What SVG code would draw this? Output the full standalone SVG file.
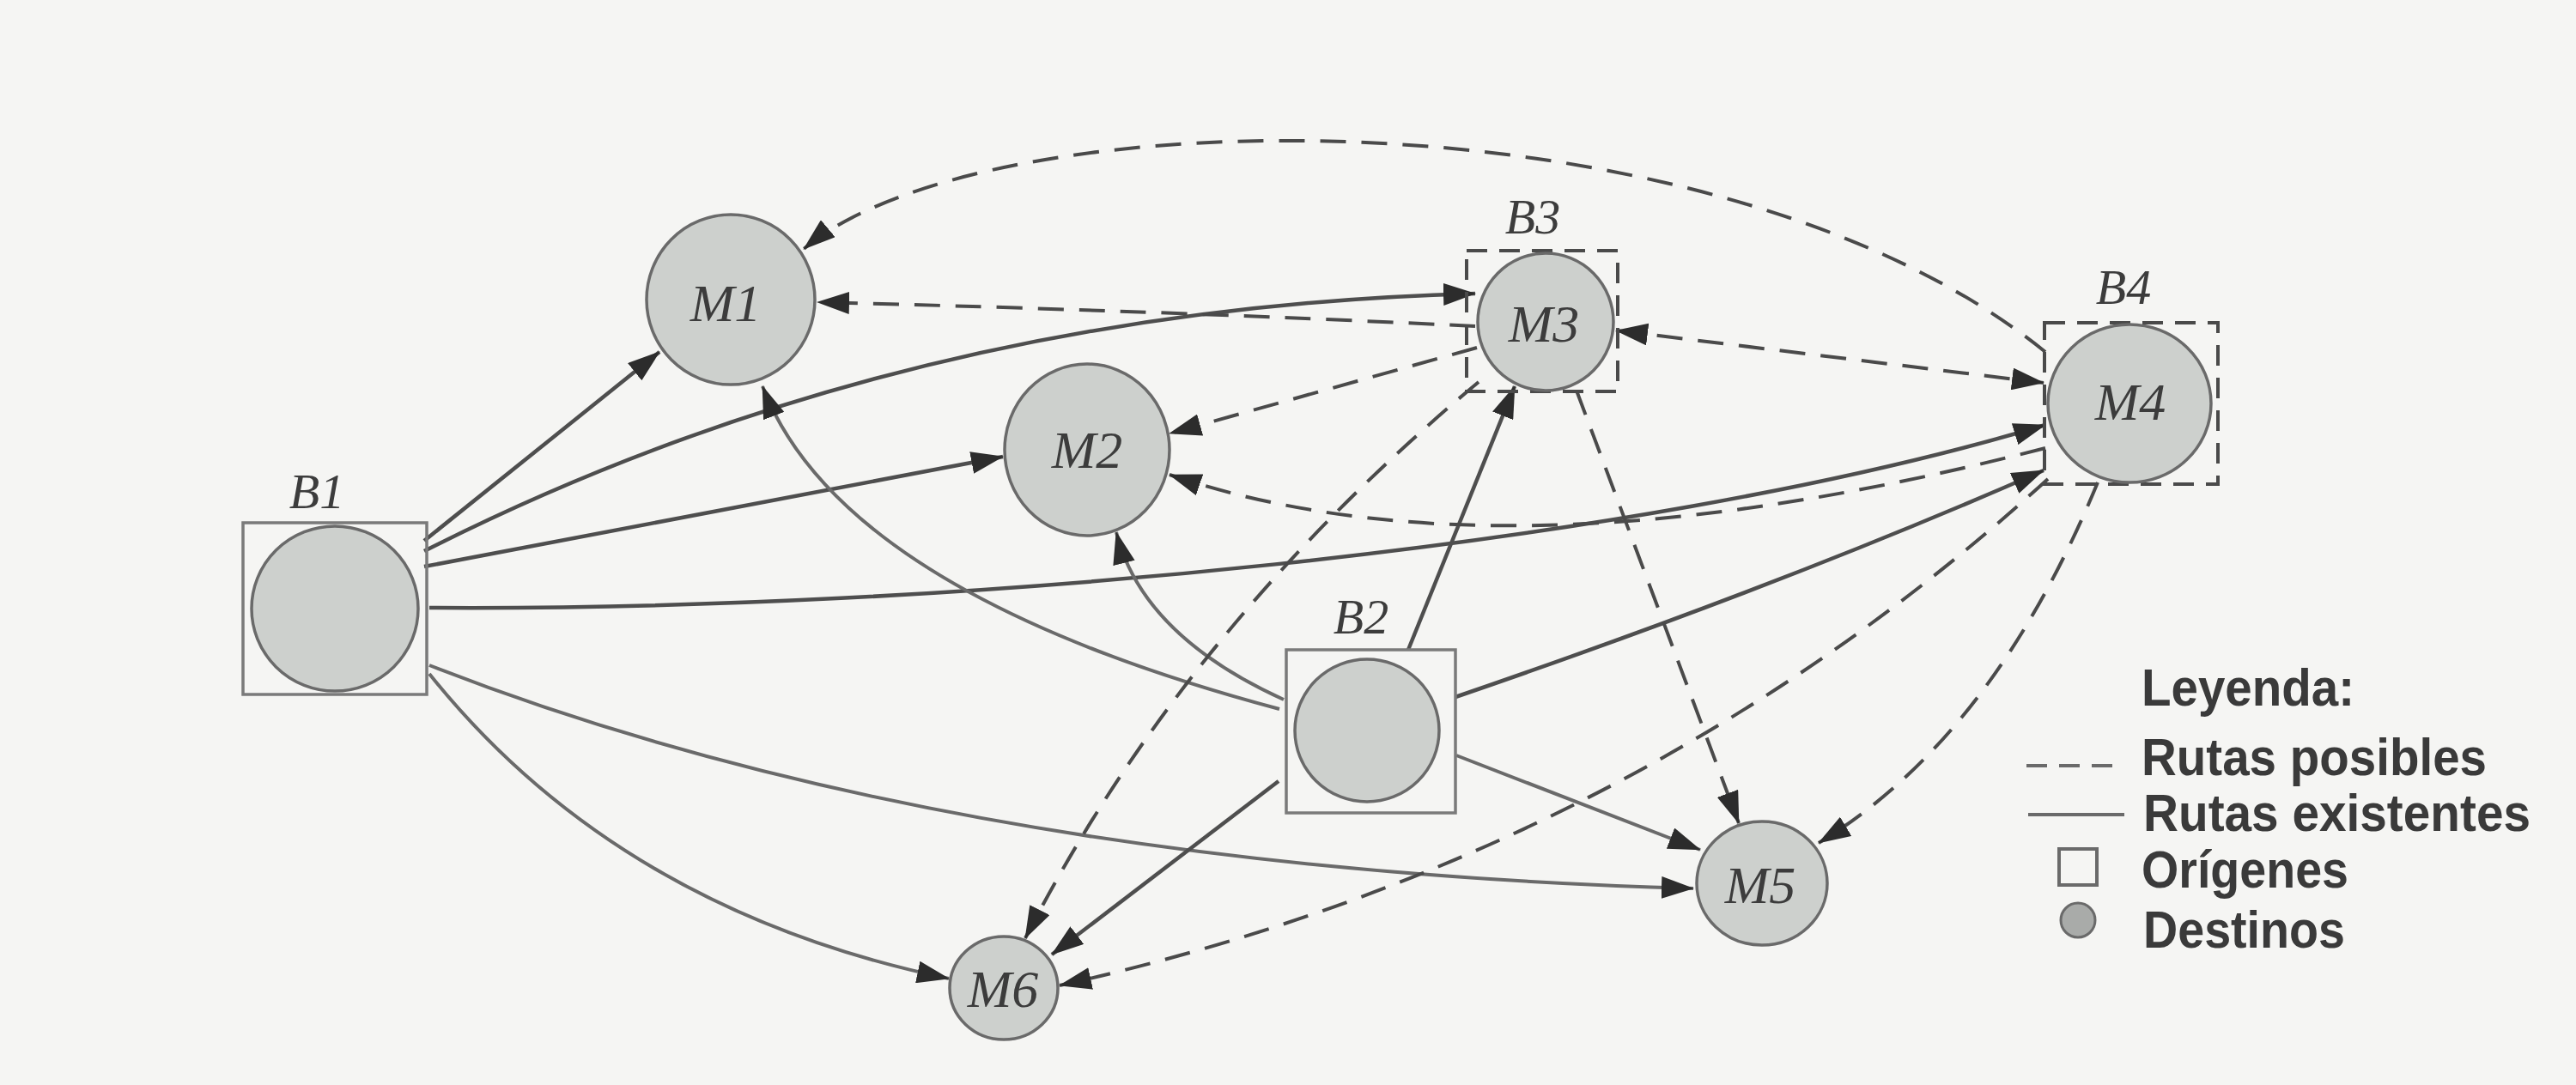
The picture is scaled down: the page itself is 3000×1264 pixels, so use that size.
<svg xmlns="http://www.w3.org/2000/svg" width="3000" height="1264" viewBox="0 0 3000 1264">
<style>
.bg{fill:#f5f5f3}
.node{fill:#cdd0cd;stroke:#6a6a6a;stroke-width:3.5}
.box{fill:none;stroke:#7a7a7a;stroke-width:3.5}
.dbox{fill:none;stroke:#4a4a4a;stroke-width:4;stroke-dasharray:24 14}
.ml{font-family:"Liberation Serif",serif;font-style:italic;font-size:62px;fill:#3c3c3c;text-anchor:middle}
.bl{font-family:"Liberation Serif",serif;font-style:italic;font-size:58px;fill:#3c3c3c;text-anchor:middle}
.solid{fill:none;stroke:#4e4e4e;stroke-width:4.5;marker-end:url(#ah)}
.light{stroke:#6a6a6a;stroke-width:4}
.dash{fill:none;stroke:#4a4a4a;stroke-width:4;stroke-dasharray:30 18;marker-end:url(#ah)}
.lg{font-family:"Liberation Sans",Arial,sans-serif;font-weight:bold;font-size:62px;fill:#3a3a3a}
</style>
<defs>
<marker id="ah" viewBox="0 0 38 26" refX="37" refY="13" markerWidth="38" markerHeight="26" markerUnits="userSpaceOnUse" orient="auto-start-reverse">
<path d="M0,0 L38,13 L0,26 z" fill="#2c2c2c"/>
</marker>
</defs>
<rect class="bg" x="0" y="0" width="3000" height="1264"/>

<g id="connectors">
<!-- existing routes -->
<path class="solid" d="M494,630 L768,410"/>
<path class="solid" d="M494,642 Q1050,360 1718,342"/>
<path class="solid" d="M494,660 L1168,532"/>
<path class="solid" d="M500,708 C1100,712 1900,640 2382,495"/>
<path class="solid light" d="M500,775 Q1100,1010 1972,1035"/>
<path class="solid light" d="M500,785 Q720,1060 1105,1140"/>
<path class="solid light" d="M1490,826 Q980,690 888,450"/>
<path class="solid light" d="M1495,815 Q1330,740 1300,620"/>
<path class="solid" d="M1640,757 L1764,450"/>
<path class="solid" d="M1695,812 Q2080,680 2380,548"/>
<path class="solid light" d="M1696,880 L1980,990"/>
<path class="solid" d="M1489,910 L1225,1112"/>
<!-- possible routes -->
<path class="dash" d="M1718,380 Q1350,362 952,352"/>
<path class="dash" d="M1720,405 L1362,505"/>
<path class="dash" d="M1722,445 Q1380,730 1194,1093"/>
<path class="dash" d="M1836,455 L2025,959"/>
<path class="dash" d="M1882,385 L2380,446" marker-start="url(#ah)"/>
<path class="dash" d="M2382,410 C2000,100 1150,110 936,290"/>
<path class="dash" d="M2382,522 C2000,620 1650,650 1362,553"/>
<path class="dash" d="M2385,558 Q1900,1000 1234,1148"/>
<path class="dash" d="M2443,562 Q2320,860 2118,982"/>
</g>

<g id="B1">
<rect class="box" x="283" y="609" width="214" height="200"/>
<ellipse class="node" cx="390" cy="709" rx="97" ry="96"/>
<text class="bl" x="369" y="592">B1</text>
</g>
<g id="B2">
<rect class="box" x="1498" y="757" width="197" height="190"/>
<ellipse class="node" cx="1592" cy="851" rx="84" ry="83"/>
<text class="bl" x="1585" y="738">B2</text>
</g>
<g id="M1">
<ellipse class="node" cx="851" cy="349" rx="98" ry="99"/>
<text class="ml" x="845" y="374">M1</text>
</g>
<g id="M2">
<ellipse class="node" cx="1266" cy="524" rx="96" ry="100"/>
<text class="ml" x="1266" y="545">M2</text>
</g>
<g id="B3">
<rect class="dbox" x="1708" y="292" width="176" height="164"/>
<ellipse class="node" cx="1800" cy="375" rx="79" ry="80"/>
<text class="bl" x="1785" y="272">B3</text>
<text class="ml" x="1798" y="398">M3</text>
</g>
<g id="B4">
<rect class="dbox" x="2381" y="376" width="202" height="188"/>
<ellipse class="node" cx="2480" cy="470" rx="95" ry="92"/>
<text class="bl" x="2473" y="354">B4</text>
<text class="ml" x="2481" y="489">M4</text>
</g>
<g id="M5">
<ellipse class="node" cx="2052" cy="1029" rx="76" ry="72"/>
<text class="ml" x="2050" y="1052">M5</text>
</g>
<g id="M6">
<ellipse class="node" cx="1169" cy="1151" rx="63" ry="60"/>
<text class="ml" x="1168" y="1173">M6</text>
</g>

<g id="legend">
<text class="lg" x="2494" y="822" textLength="248" lengthAdjust="spacingAndGlyphs">Leyenda:</text>
<path d="M2360,892 L2474,892" fill="none" stroke="#6a6a6a" stroke-width="4" stroke-dasharray="24 14"/>
<text class="lg" x="2494" y="903" textLength="402" lengthAdjust="spacingAndGlyphs">Rutas posibles</text>
<path d="M2362,949 L2474,949" fill="none" stroke="#6a6a6a" stroke-width="4"/>
<text class="lg" x="2496" y="968" textLength="451" lengthAdjust="spacingAndGlyphs">Rutas existentes</text>
<rect x="2398" y="989" width="44" height="42" fill="none" stroke="#6a6a6a" stroke-width="4"/>
<text class="lg" x="2494" y="1034" textLength="241" lengthAdjust="spacingAndGlyphs">Orígenes</text>
<circle cx="2420" cy="1072" r="20" fill="#a9aba9" stroke="#6a6a6a" stroke-width="3"/>
<text class="lg" x="2496" y="1104" textLength="235" lengthAdjust="spacingAndGlyphs">Destinos</text>
</g>
</svg>
